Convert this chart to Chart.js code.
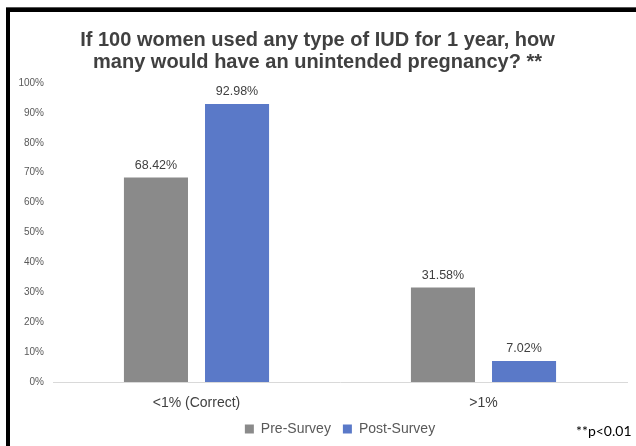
<!DOCTYPE html>
<html>
<head>
<meta charset="utf-8">
<script src="https://cdn.jsdelivr.net/npm/chart.js@4/dist/chart.umd.min.js"></script>
<style>
  html, body { margin: 0; padding: 0; background: #fff; }
  #wrap { width: 636px; height: 446px; }
</style>
</head>
<body>
<div id="wrap"><canvas id="myChart-iud"></canvas></div>
<script>
// categories and values (percent)
const categories = ['<1% (Correct)', '>1%'];
const preSurvey = [68.42, 31.58];
const postSurvey = [92.98, 7.02];
const yTicks = [0, 10, 20, 30, 40, 50, 60, 70, 80, 90, 100];

const FONT = '"Liberation Sans", Arial, sans-serif';

// frame, value labels and the p-value note
const extras = {
    id: 'extras',
    afterDraw(chart) {
        const ctx = chart.ctx;
        ctx.save();
        ctx.fillStyle = '#000';
        ctx.fillRect(6, 8, 4, 438);
        ctx.fillRect(6, 8, 630, 4);
        ctx.fillStyle = '#555';
        ctx.fillRect(6, 7, 630, 1);

        ctx.font = '12.5px ' + FONT;
        ctx.fillStyle = '#404040';
        ctx.textAlign = 'center';
        ctx.textBaseline = 'bottom';
        chart.data.datasets.forEach((ds, i) => {
            chart.getDatasetMeta(i).data.forEach((bar, j) => {
                ctx.fillText(ds.data[j].toFixed(2) + '%', bar.x, bar.y - 6);
            });
        });

        ctx.font = '14px Lato, "Open Sans", sans-serif';
        ctx.fillStyle = '#000';
        ctx.textAlign = 'left';
        ctx.textBaseline = 'alphabetic';
        ctx.fillText('**p<0.01', 576, 436);
        ctx.restore();
    }
};

const ctx1 = document.getElementById('myChart-iud').getContext('2d');
const myChart1 = new Chart(ctx1, {
    type: 'bar',
    data: {
        labels: categories,
        datasets: [{
            label: 'Pre-Survey',
            data: preSurvey,
            backgroundColor: '#8a8a8a'
        }, {
            label: 'Post-Survey',
            data: postSurvey,
            backgroundColor: '#5a79c8'
        }]
    },
    options: {
        responsive: true,
        maintainAspectRatio: false,
        animation: false,
        layout: { padding: { top: 29, left: 8, right: 9, bottom: 0 } },
        categoryPercentage: 0.565,
        barPercentage: 0.79,
        plugins: {
            title: {
                display: true,
                text: ['If 100 women used any type of IUD for 1 year, how',
                       'many would have an unintended pregnancy? **'],
                color: '#404040',
                font: { family: FONT, size: 20, weight: 'bold', lineHeight: 1.1 },
                padding: { top: 0, bottom: 10 }
            },
            legend: {
                position: 'bottom',
                fullSize: false,
                labels: {
                    boxWidth: 9,
                    boxHeight: 9,
                    padding: 12,
                    color: '#595959',
                    font: { family: FONT, size: 14 }
                }
            },
            tooltip: { enabled: false }
        },
        scales: {
            x: {
                grid: { display: false, drawTicks: false },
                border: { display: true, color: '#d9d9d9', width: 1 },
                afterFit(scale) { scale.height = 28; },
                ticks: {
                    color: '#404040',
                    padding: 14,
                    font: { family: FONT, size: 14, lineHeight: 1 }
                }
            },
            y: {
                min: 0,
                max: 100,
                grid: { display: false, drawTicks: false },
                border: { display: false },
                afterFit(scale) { scale.width = 45; },
                afterBuildTicks(scale) {
                    scale.ticks = yTicks.map(v => ({ value: v }));
                },
                ticks: {
                    color: '#595959',
                    padding: 9,
                    font: { family: FONT, size: 10 },
                    callback: v => v + '%'
                }
            }
        }
    },
    plugins: [extras]
});
</script>
</body>
</html>
